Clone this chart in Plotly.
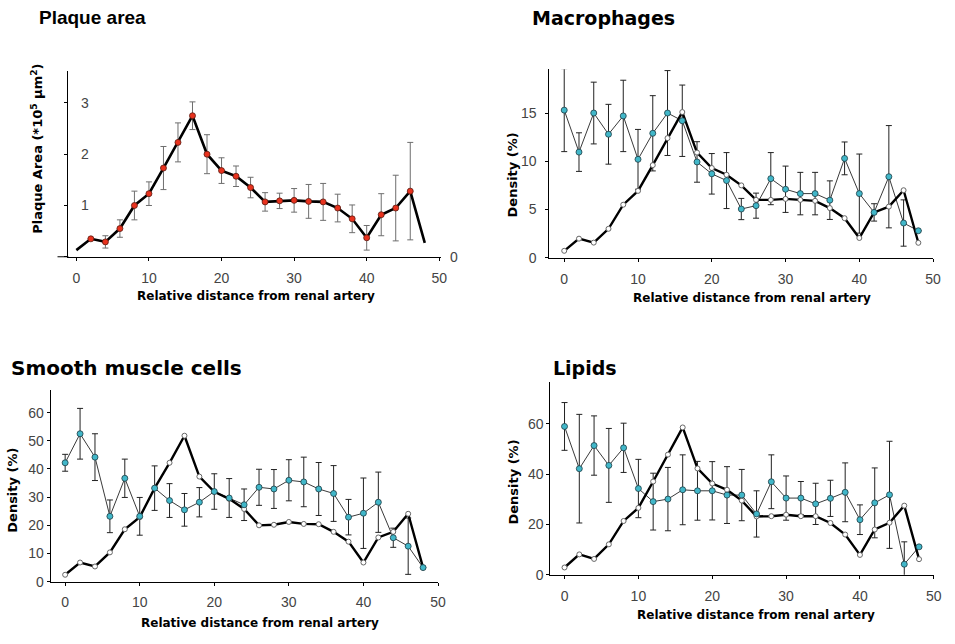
import plotly.graph_objects as go

# ---- data -------------------------------------------------------------
distance = [0, 2, 4, 6, 8, 10, 12, 14, 16, 18, 20, 22, 24, 26, 28, 30, 32, 34, 36, 38, 40, 42, 44, 46, 48]

plaque_area = [0.13, 0.35, 0.29, 0.55, 1.00, 1.23, 1.73, 2.23, 2.75, 2.00, 1.68, 1.57, 1.35,
               1.07, 1.09, 1.10, 1.08, 1.07, 0.95, 0.74, 0.37, 0.82, 0.95, 1.28, 0.27]
plaque_err = [None, 0.0, 0.12, 0.17, 0.28, 0.23, 0.42, 0.38, 0.27, 0.38, 0.25, 0.20, 0.20,
              0.18, 0.15, 0.23, 0.33, 0.36, 0.27, 0.27, 0.24, 0.41, 0.64, 0.95, None]
plaque_ticks = [1, 2, 3]

mac_profile = [0.72, 1.98, 1.57, 3.0, 5.5, 6.93, 9.6, 12.4, 15.1, 10.9, 9.3, 8.6, 7.5,
               6.0, 6.0, 6.1, 6.0, 5.9, 5.15, 4.1, 2.05, 4.7, 5.3, 7.0, 1.55]
mac_density = [15.3, 10.95, 15.0, 12.8, 14.7, 10.2, 12.9, 15.0, 14.2, 9.93, 8.7, 8.0, 5.05,
               5.4, 8.2, 7.1, 6.65, 6.65, 5.97, 10.3, 6.65, 4.7, 8.4, 3.6, 2.8]
mac_err = [4.3, 2.0, 3.2, 3.1, 3.7, 3.1, 3.9, 4.4, 3.7, 2.1, 2.1, 2.9, 1.1,
           1.3, 2.7, 2.4, 2.2, 2.2, 2.0, 1.7, 4.1, 0.9, 5.3, 2.4, 0]

smc_profile = [2.46, 6.8, 5.4, 10.4, 18.6, 22.9, 33.2, 42.2, 51.8, 37.3, 31.9, 29.4, 25.8,
               20.0, 20.2, 21.2, 20.5, 20.4, 17.7, 14.2, 6.8, 15.7, 17.7, 24.1, 5.0]
smc_density = [42.2, 52.5, 44.2, 23.2, 36.7, 23.2, 33.2, 28.8, 25.5, 28.2, 32.0, 29.7, 27.3,
               33.5, 32.9, 36.0, 35.4, 32.9, 31.3, 22.9, 24.3, 28.2, 15.6, 12.6, 5.0]
smc_err = [3.0, 9.0, 8.3, 5.8, 6.8, 6.7, 7.9, 6.0, 5.8, 5.2, 6.3, 6.9, 5.6,
           6.4, 6.9, 7.3, 8.8, 9.4, 9.9, 6.3, 12.5, 10.7, 3.4, 10.0, 0]

lip_profile = [2.9, 8.1, 6.3, 12.1, 21.4, 26.6, 37.1, 47.8, 58.6, 42.3, 36.3, 33.8, 29.5,
               23.2, 23.3, 23.9, 23.3, 23.3, 20.6, 16.0, 7.9, 18.0, 20.7, 27.5, 6.2]
lip_density = [59.0, 42.2, 51.4, 43.5, 50.5, 34.3, 29.1, 30.1, 33.8, 33.4, 33.4, 31.7, 31.7,
               24.2, 37.0, 30.5, 30.5, 28.2, 30.4, 32.8, 21.9, 28.6, 31.8, 4.2, 11.1]
lip_err = [9.5, 21.6, 11.8, 14.7, 9.8, 11.6, 11.3, 12.6, 13.9, 11.7, 11.6, 11.3, 10.2,
           9.2, 10.7, 8.8, 6.6, 8.2, 7.2, 11.7, 5.9, 13.9, 21.3, 8.9, 0]

x_ticks = [0, 10, 20, 30, 40, 50]

# ---- page geometry -----------------------------------------------------
W, H = 955, 644
FONT = "Liberation Sans, Arial, sans-serif"
WIDE = "DejaVu Sans, Verdana, sans-serif"


def fx(px):
    return px / W


def fy(py):
    return 1 - py / H


fig = go.Figure()

# Plaque area: single series with red markers
fig.add_trace(go.Scatter(
    x=distance[1:-1], y=plaque_area[1:-1], mode="markers",
    error_y=dict(type="data", array=plaque_err[1:-1], color="#6e6e6e", thickness=1, width=3),
    marker=dict(size=1, color="rgba(0,0,0,0)"), xaxis="x", yaxis="y", showlegend=False))
fig.add_trace(go.Scatter(
    x=distance, y=plaque_area, mode="lines", line=dict(color="black", width=2.6),
    xaxis="x", yaxis="y", showlegend=False))
fig.add_trace(go.Scatter(
    x=distance[1:-1], y=plaque_area[1:-1], mode="markers",
    marker=dict(size=6, color="#e8321e", line=dict(color="#5a1a10", width=0.8)),
    xaxis="x", yaxis="y", showlegend=False))


def add_pair(profile, density, err, xa, ya):
    # cell density (cyan, with SD) and the scaled plaque profile (black)
    fig.add_trace(go.Scatter(
        x=distance, y=density, mode="lines",
        error_y=dict(type="data", array=err, color="#222222", thickness=1, width=3),
        line=dict(color="#3a3a3a", width=1), xaxis=xa, yaxis=ya, showlegend=False))
    fig.add_trace(go.Scatter(
        x=distance, y=profile, mode="lines+markers",
        line=dict(color="black", width=2.4),
        marker=dict(size=5, color="white", line=dict(color="#666666", width=1)),
        xaxis=xa, yaxis=ya, showlegend=False))
    fig.add_trace(go.Scatter(
        x=distance, y=density, mode="markers",
        marker=dict(size=6, color="#41b7c9", line=dict(color="#1d3c44", width=0.8)),
        xaxis=xa, yaxis=ya, showlegend=False))


add_pair(mac_profile, mac_density, mac_err, "x2", "y2")
add_pair(smc_profile, smc_density, smc_err, "x3", "y3")
add_pair(lip_profile, lip_density, lip_err, "x4", "y4")

tickfont = dict(family=FONT, size=14, color="#444444")


def xaxis_cfg(left, right, x0px, x50px):
    per = (x50px - x0px) / 50
    return dict(domain=[fx(left), fx(right)],
                range=[(left - x0px) / per, (right - x0px) / per],
                showline=True, linecolor="black", linewidth=1, showgrid=False, zeroline=False,
                ticks="outside", ticklen=3, tickcolor="black", tickvals=x_ticks,
                tickfont=tickfont, ticklabelstandoff=5, fixedrange=True)


def yaxis_cfg(xa, bottom, top, ymax, tickvals, **kw):
    d = dict(domain=[fy(bottom), fy(top)], range=[0, ymax], anchor=xa,
             showline=True, linecolor="black", linewidth=1, showgrid=False, zeroline=False,
             ticks="outside", ticklen=3, tickcolor="black", tickvals=tickvals,
             tickfont=tickfont, fixedrange=True)
    d.update(kw)
    return d


layout = dict(
    width=W, height=H, margin=dict(l=0, r=0, t=0, b=0),
    paper_bgcolor="white", plot_bgcolor="white",
    font=dict(family=FONT, color="black"),
    xaxis=dict(xaxis_cfg(69, 445, 77, 443), anchor="y"),
    yaxis=yaxis_cfg("x", 260, 72, 3.62, [0] + plaque_ticks, showticklabels=False),
    xaxis2=dict(xaxis_cfg(554, 941, 569, 941), anchor="y2"),
    yaxis2=yaxis_cfg("x2", 261, 70, 19.55, [0, 5, 10, 15], ticklabelstandoff=6),
    xaxis3=dict(xaxis_cfg(51, 442, 65.7, 441.7), anchor="y3"),
    yaxis3=yaxis_cfg("x3", 589, 395, 68, [0, 10, 20, 30, 40, 50, 60]),
    xaxis4=dict(xaxis_cfg(555, 942, 569.3, 941.7), anchor="y4"),
    yaxis4=yaxis_cfg("x4", 582, 387, 76.6, [0, 20, 40, 60]),
)
fig.update_layout(**layout)

# plaque y labels sit just right of the axis line
for v in plaque_ticks:
    fig.add_annotation(text=str(v), xref="paper", yref="y", x=fx(80), y=v,
                       xanchor="left", yanchor="middle", showarrow=False, font=tickfont)

# short stub of the plaque x-axis left of its y-axis, and the lone "0" label
fig.add_shape(type="line", xref="paper", yref="paper",
              x0=fx(58), x1=fx(69), y0=fy(260), y1=fy(260), line=dict(color="black", width=1))
fig.add_annotation(text="0", xref="paper", yref="paper", x=fx(452), y=fy(260),
                   xanchor="left", yanchor="middle", showarrow=False, font=tickfont)


def label(text, x, y, size, angle=0, anchor="center", family=WIDE):
    fig.add_annotation(text=text, xref="paper", yref="paper", x=fx(x), y=fy(y),
                       xanchor=anchor, yanchor="middle", showarrow=False, textangle=angle,
                       font=dict(family=family, size=size, color="black"))


# panel titles
label("<b>Plaque area</b>", 37, 18, 19, anchor="left", family=FONT)
label("<b>Macrophages</b>", 534, 18, 19, anchor="left")
label("<b>Smooth muscle cells</b>", 9, 373, 20, anchor="left")
label("<b>Lipids</b>", 556, 373, 19, anchor="left")

# axis titles
xt = "<b>Relative distance from renal artery</b>"
label(xt, 258, 300, 12)
label(xt, 758, 302, 12)
label(xt, 262, 631, 12)
label(xt, 762, 623, 12)
label("<b>Plaque Area (*10<sup>5</sup> µm<sup>2</sup>)</b>", 37, 151, 13, angle=-90)
label("<b>Density (%)</b>", 517, 177, 13, angle=-90)
label("<b>Density (%)</b>", 13, 496, 13, angle=-90)
label("<b>Density (%)</b>", 518, 488, 13, angle=-90)

fig.write_html("out.html")
